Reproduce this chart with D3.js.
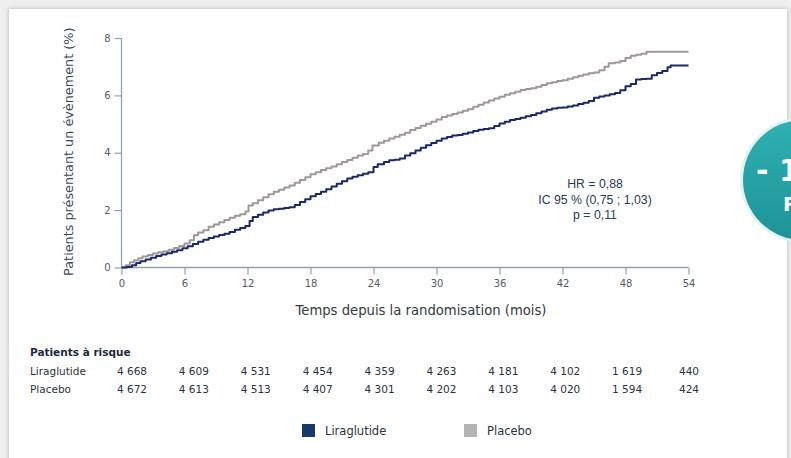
<!DOCTYPE html>
<html>
<head>
<meta charset="utf-8">
<script src="https://cdn.jsdelivr.net/npm/d3@7"></script>
<style>
  html, body { margin: 0; padding: 0; background: #efefef; }
  svg { display: block; }
</style>
</head>
<body>
<svg id="chart" width="791" height="458"></svg>
<script>
// Cumulative incidence (%) by month since randomisation, [month, percent]
const liraglutide = [
  [0,0],[0.5,0.02],[1.0,0.08],[1.4,0.16],[1.8,0.22],[2.3,0.28],[2.8,0.34],[3.3,0.40],
  [3.8,0.45],[4.3,0.50],[4.8,0.55],[5.3,0.60],[5.8,0.67],[6.3,0.74],[6.8,0.82],[7.3,0.90],
  [7.8,0.97],[8.3,1.03],[8.8,1.08],[9.3,1.13],[9.8,1.18],[10.3,1.24],[10.8,1.32],[11.3,1.38],
  [11.8,1.45],[12.2,1.62],[12.5,1.76],[13.0,1.84],[13.5,1.92],[14.0,1.99],[14.5,2.03],[15.0,2.05],
  [15.5,2.07],[16.0,2.10],[16.5,2.18],[17.0,2.28],[17.5,2.38],[18.0,2.48],[18.5,2.56],[19.0,2.64],
  [19.5,2.73],[20.0,2.82],[20.5,2.92],[21.0,3.01],[21.5,3.10],[22.0,3.16],[22.5,3.22],[23.0,3.27],
  [23.5,3.32],[24.0,3.50],[24.4,3.60],[25.0,3.68],[25.5,3.74],[26.0,3.76],[26.5,3.80],[27.0,3.90],
  [27.5,3.98],[28.0,4.08],[28.5,4.17],[29.0,4.26],[29.5,4.34],[30.0,4.42],[30.5,4.50],[31.0,4.55],
  [31.5,4.60],[32.0,4.62],[32.5,4.66],[33.0,4.71],[33.5,4.76],[34.0,4.80],[34.5,4.83],[35.0,4.85],
  [35.5,4.93],[36.0,5.02],[36.5,5.08],[37.0,5.14],[37.5,5.18],[38.0,5.22],[38.5,5.27],[39.0,5.32],
  [39.5,5.38],[40.0,5.44],[40.5,5.50],[41.0,5.54],[41.5,5.57],[42.0,5.58],[42.5,5.61],[43.0,5.65],
  [43.5,5.70],[44.0,5.74],[44.5,5.80],[45.0,5.92],[45.5,5.96],[46.0,6.00],[46.5,6.04],[47.0,6.08],
  [47.5,6.18],[48.0,6.32],[48.5,6.40],[49.0,6.55],[49.5,6.57],[50.0,6.58],[50.5,6.70],[51.0,6.78],
  [51.5,6.85],[52.0,6.98],[52.3,7.04],[54,7.04]
];
const placebo = [
  [0,0],[0.4,0.08],[0.8,0.18],[1.2,0.25],[1.6,0.32],[2.0,0.38],[2.5,0.44],[3.0,0.49],
  [3.5,0.53],[4.0,0.57],[4.5,0.62],[5.0,0.68],[5.5,0.75],[6.0,0.84],[6.5,0.95],[6.9,1.12],
  [7.3,1.22],[7.8,1.30],[8.3,1.42],[8.8,1.50],[9.3,1.58],[9.8,1.66],[10.3,1.73],[10.8,1.80],
  [11.3,1.86],[11.8,1.95],[12.1,2.16],[12.5,2.24],[13.0,2.34],[13.5,2.45],[14.0,2.55],[14.5,2.64],
  [15.0,2.71],[15.5,2.79],[16.0,2.86],[16.5,2.95],[17.0,3.05],[17.5,3.15],[18.0,3.25],[18.5,3.32],
  [19.0,3.40],[19.5,3.46],[20.0,3.52],[20.5,3.60],[21.0,3.68],[21.5,3.75],[22.0,3.83],[22.5,3.90],
  [23.0,3.96],[23.5,4.08],[23.9,4.25],[24.5,4.35],[25.0,4.42],[25.5,4.50],[26.0,4.56],[26.5,4.63],
  [27.0,4.70],[27.5,4.79],[28.0,4.86],[28.5,4.94],[29.0,5.01],[29.5,5.08],[30.0,5.16],[30.5,5.25],
  [31.0,5.30],[31.5,5.35],[32.0,5.40],[32.5,5.46],[33.0,5.52],[33.5,5.60],[34.0,5.67],[34.5,5.75],
  [35.0,5.82],[35.5,5.89],[36.0,5.95],[36.5,6.02],[37.0,6.07],[37.5,6.13],[38.0,6.19],[38.5,6.22],
  [39.0,6.25],[39.5,6.30],[40.0,6.36],[40.5,6.42],[41.0,6.46],[41.5,6.50],[42.0,6.53],[42.5,6.58],
  [43.0,6.63],[43.5,6.68],[44.0,6.73],[44.5,6.77],[45.0,6.80],[45.5,6.88],[46.0,7.00],[46.4,7.12],
  [47.0,7.15],[47.5,7.20],[48.0,7.30],[48.5,7.38],[49.0,7.42],[49.5,7.45],[50.0,7.52],[54,7.52]
];

const monthTicks = [0, 6, 12, 18, 24, 30, 36, 42, 48, 54];
const percentTicks = [0, 2, 4, 6, 8];

// Patients at risk at each month tick
const riskLiraglutide = ["4 668","4 609","4 531","4 454","4 359","4 263","4 181","4 102","1 619","440"];
const riskPlacebo     = ["4 672","4 613","4 513","4 407","4 301","4 202","4 103","4 020","1 594","424"];

const statsLines = ["HR = 0,88", "IC 95 % (0,75 ; 1,03)", "p = 0,11"];

const seriesNames = ["Liraglutide", "Placebo"];
const colors = { Liraglutide: "#1b2a66", Placebo: "#a09898" };
const legendColors = { Liraglutide: "#163a6a", Placebo: "#b4b4b4" };

const svg = d3.select("#chart");

// Card background
const defs = svg.append("defs");
const shadow = defs.append("filter").attr("id", "cardShadow")
  .attr("x", "-5%").attr("y", "-5%").attr("width", "110%").attr("height", "110%");
shadow.append("feGaussianBlur").attr("in", "SourceAlpha").attr("stdDeviation", 2.5);
shadow.append("feOffset").attr("dx", 0).attr("dy", 0).attr("result", "b");
shadow.append("feComponentTransfer").append("feFuncA").attr("type", "linear").attr("slope", 0.25);
const merge = shadow.append("feMerge");
merge.append("feMergeNode");
merge.append("feMergeNode").attr("in", "SourceGraphic");

svg.append("rect").attr("x", 9).attr("y", 9).attr("width", 778).attr("height", 470)
  .attr("fill", "#ffffff").attr("filter", "url(#cardShadow)");

// Teal badge on the right edge
const grad = defs.append("linearGradient").attr("id", "badgeGrad")
  .attr("x1", "0").attr("y1", "0").attr("x2", "0").attr("y2", "1");
grad.append("stop").attr("offset", "0%").attr("stop-color", "#2fb0b2");
grad.append("stop").attr("offset", "100%").attr("stop-color", "#1d9397");
svg.append("circle").attr("cx", 803).attr("cy", 180).attr("r", 63)
  .attr("fill", "#e3f2f2");
svg.append("circle").attr("cx", 803).attr("cy", 180).attr("r", 60)
  .attr("fill", "url(#badgeGrad)");
const badge = svg.append("g")
  .attr("font-family", "DejaVu Sans, sans-serif").attr("font-weight", "bold").attr("fill", "#ffffff");
badge.append("text").attr("x", 756).attr("y", 181).attr("font-size", 30).text("- 1");
badge.append("text").attr("x", 783).attr("y", 211).attr("font-size", 20).text("R");

// Scales
const x = d3.scaleLinear().domain([0, 54]).range([121.5, 688.5]);
const y = d3.scaleLinear().domain([0, 8]).range([267.5, 38]);

const axisColor = "#8da2b2";
const tickText = "#555a60";

// Axes
const xAxis = svg.append("g").attr("transform", `translate(0,${y(0)})`)
  .call(d3.axisBottom(x).tickValues(monthTicks).tickSize(7).tickPadding(5).tickFormat(d3.format("d")));
const yAxis = svg.append("g").attr("transform", `translate(${x(0)},0)`)
  .call(d3.axisLeft(y).tickValues(percentTicks).tickSize(7).tickPadding(4).tickFormat(d3.format("d")));
[xAxis, yAxis].forEach(g => {
  g.select(".domain").attr("stroke", axisColor).attr("stroke-width", 1.3);
  g.selectAll(".tick line").attr("stroke", axisColor).attr("stroke-width", 1.2);
  g.selectAll(".tick text").attr("fill", tickText)
    .attr("font-family", "DejaVu Sans, sans-serif").attr("font-size", 10);
});
xAxis.select(".domain").attr("d", `M${x(0)},0H${x(54)}`);
yAxis.select(".domain").attr("d", `M0,${y(8)}V${y(0)}`);

// Axis titles
svg.append("text").attr("x", 421).attr("y", 315).attr("text-anchor", "middle")
  .attr("font-family", "DejaVu Sans, sans-serif").attr("font-size", 13.2).attr("fill", "#333a42")
  .text("Temps depuis la randomisation (mois)");
svg.append("text").attr("transform", `translate(73,${(y(0) + y(8)) / 2 - 1}) rotate(-90)`)
  .attr("text-anchor", "middle")
  .attr("font-family", "DejaVu Sans, sans-serif").attr("font-size", 12.8).attr("fill", "#3a4a5a")
  .text("Patients présentant un évènement (%)");

// Kaplan-Meier style step curves
const line = d3.line().x(d => x(d[0])).y(d => y(d[1])).curve(d3.curveStepAfter);
const seriesData = { Liraglutide: liraglutide, Placebo: placebo };
["Placebo", "Liraglutide"].forEach(name => {
  svg.append("path").datum(seriesData[name])
    .attr("d", line).attr("fill", "none")
    .attr("stroke", colors[name]).attr("stroke-width", 2)
    .attr("stroke-linejoin", "round");
});

// Hazard ratio annotation
svg.append("g").selectAll("text").data(statsLines).join("text")
  .attr("x", 595).attr("y", (d, i) => 188 + i * 15.5).attr("text-anchor", "middle")
  .attr("font-family", "Liberation Sans, Arial, sans-serif").attr("font-size", 12.3)
  .attr("fill", "#2b3a55").text(d => d);

// Patients at risk table
const col = d3.scalePoint().domain(monthTicks).range([132, 689]);
const tableFont = "DejaVu Sans, Verdana, sans-serif";
svg.append("text").attr("x", 30).attr("y", 356)
  .attr("font-family", tableFont).attr("font-size", 10.5).attr("font-weight", "bold")
  .attr("fill", "#1e2a3a").text("Patients à risque");
const rows = [
  { name: seriesNames[0], values: riskLiraglutide, yPos: 375 },
  { name: seriesNames[1], values: riskPlacebo, yPos: 393 }
];
rows.forEach(r => {
  svg.append("text").attr("x", 30).attr("y", r.yPos)
    .attr("font-family", tableFont).attr("font-size", 10.5).attr("fill", "#2a3340").text(r.name);
  svg.append("g").selectAll("text").data(r.values).join("text")
    .attr("x", (d, i) => col(monthTicks[i])).attr("y", r.yPos).attr("text-anchor", "middle")
    .attr("font-family", tableFont).attr("font-size", 10.5).attr("fill", "#2a3340").text(d => d);
});

// Legend
const legendX = [302, 464];
seriesNames.forEach((name, i) => {
  svg.append("rect").attr("x", legendX[i]).attr("y", 424).attr("width", 13).attr("height", 13)
    .attr("fill", legendColors[name]);
  svg.append("text").attr("x", legendX[i] + 23).attr("y", 435)
    .attr("font-family", tableFont).attr("font-size", 11.5).attr("fill", "#2a3340").text(name);
});
</script>
</body>
</html>
